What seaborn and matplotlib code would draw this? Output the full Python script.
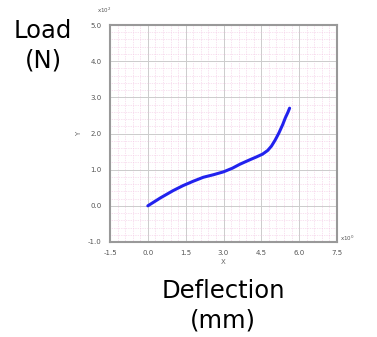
import matplotlib
matplotlib.use("Agg")
import matplotlib.pyplot as plt
import seaborn as sns
import numpy as np
import pandas as pd
from matplotlib.ticker import MultipleLocator, FormatStrFormatter

# Data (deflection in mm, load in x10^2 N)
deflection = [0.0, 0.5, 1.0, 1.4, 1.8, 2.2, 2.6, 3.0, 3.35, 3.65, 4.0, 4.3, 4.55, 4.75, 4.9, 5.05, 5.2, 5.35, 5.45, 5.55, 5.62]
load = [0.0, 0.22, 0.42, 0.56, 0.68, 0.79, 0.86, 0.94, 1.04, 1.15, 1.26, 1.35, 1.43, 1.53, 1.65, 1.82, 2.02, 2.25, 2.43, 2.58, 2.70]

xticks = [-1.5, 0.0, 1.5, 3.0, 4.5, 6.0, 7.5]
yticks = [-1.0, 0.0, 1.0, 2.0, 3.0, 4.0, 5.0]

df = pd.DataFrame({"X": deflection, "Y": load})

sns.set_style("white")
fig = plt.figure(figsize=(3.77, 3.37), dpi=100)
ax = fig.add_axes([110/377, 1-242/337, 227/377, 217/337])

sns.lineplot(data=df, x="X", y="Y", ax=ax, color="#2222ee", linewidth=2.2, sort=False)

ax.set_xlim(-1.5, 7.5)
ax.set_ylim(-1.0, 5.0)
ax.set_xticks(xticks)
ax.set_yticks(yticks)
ax.xaxis.set_major_formatter(FormatStrFormatter("%.1f"))
ax.yaxis.set_major_formatter(FormatStrFormatter("%.1f"))
ax.xaxis.set_minor_locator(MultipleLocator(0.3))
ax.yaxis.set_minor_locator(MultipleLocator(0.2))
ax.grid(True, which="major", color="#cccccc", linewidth=0.7)
ax.grid(True, which="minor", color="#f2c4e2", linewidth=0.5, linestyle=(0, (1, 1.5)))
ax.set_axisbelow(True)
ax.tick_params(axis="both", which="major", direction="in", length=3, width=0.8, color="#666666",
               labelsize=5, labelcolor="#555555", pad=6)
ax.tick_params(axis="both", which="minor", length=0)
for s in ax.spines.values():
    s.set_color("#999999")
    s.set_linewidth(1.5)

ax.set_xlabel("X", fontsize=5, color="#666666", labelpad=2)
ax.set_ylabel("Y", fontsize=5, color="#666666", labelpad=4)

fig.text(97/377, 1-10/337, "x10$^2$", fontsize=4, color="#555555", ha="left", va="center")
fig.text(340/377, 1-238/337, "x10$^0$", fontsize=4, color="#555555", ha="left", va="center")

fig.text(43/377, 1-46/337, "Load\n(N)", fontsize=17.5, color="black", ha="center", va="center",
         linespacing=1.3, family="DejaVu Sans")
fig.text(223/377, 1-306/337, "Deflection\n(mm)", fontsize=17.5, color="black", ha="center", va="center",
         linespacing=1.3, family="DejaVu Sans")

fig.savefig("out.png", dpi=100)
